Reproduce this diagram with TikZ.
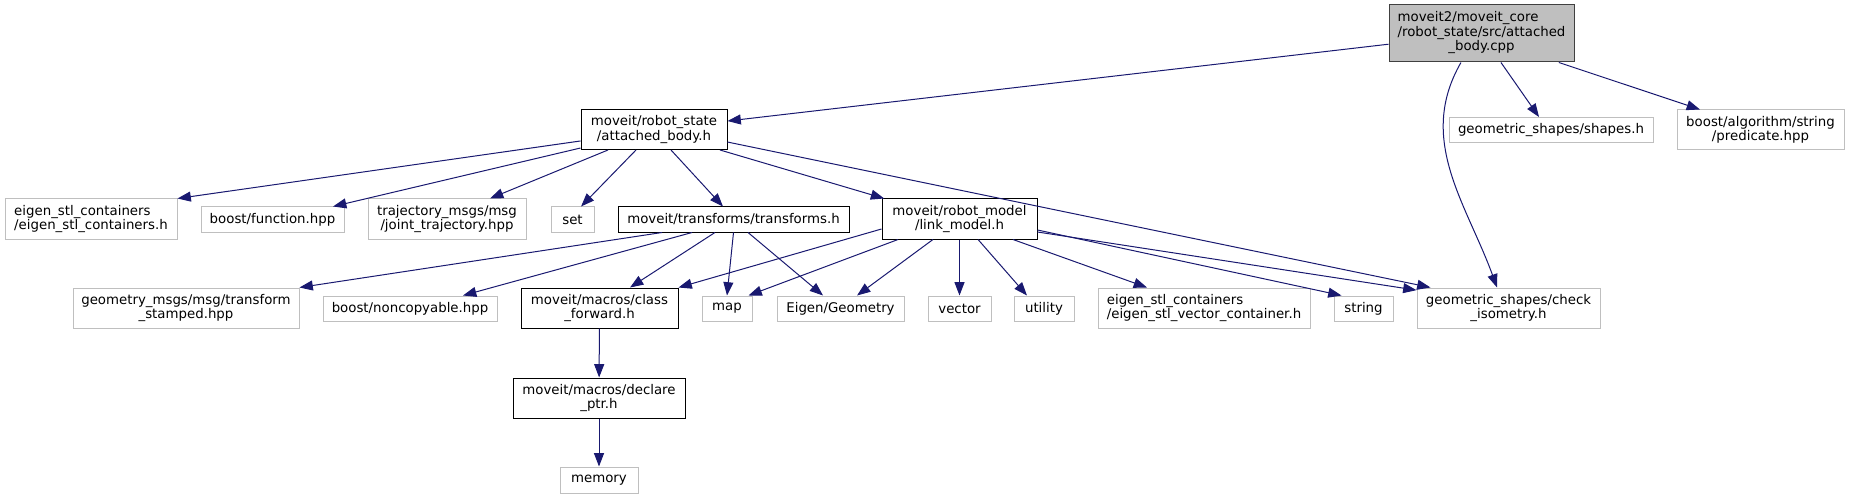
\documentclass[tikz,border=0pt]{standalone}
\usepackage{fontspec}
\setmainfont{DejaVu Sans}
\usepackage{tikz}
\usetikzlibrary{arrows.meta}
\definecolor{edgeblue}{RGB}{25,25,112}
\definecolor{boxgray}{RGB}{191,191,191}
\definecolor{rootgray}{RGB}{64,64,64}

\begin{document}
\begin{tikzpicture}[x=0.75pt, y=-0.75pt,
  every node/.style={font=\fontsize{10}{10.8}\selectfont, inner sep=0pt},
  extbox/.style={draw=boxgray, line width=0.75pt, fill=white, minimum height=18.75pt},
  filebox/.style={draw=black, line width=0.75pt, fill=white, minimum height=18.75pt},
  rootbox/.style={draw=rootgray, line width=0.75pt, fill=boxgray},
  dep/.style={draw=edgeblue, line width=0.75pt, -{Triangle[length=10pt, width=7.5pt]}}]
\useasboundingbox (0,0) rectangle (1849,499);

% Source file
\node[rootbox, minimum width=138.75pt, minimum height=42.75pt] (root) at (1481.5,33.5)
  {\begin{tabular}{@{}l@{}}moveit2/moveit\_core\\/robot\_state/src/attached\\\multicolumn{1}{@{}c@{}}{\_body.cpp}\end{tabular}};

% First level
\node[filebox, minimum width=109.5pt, minimum height=30pt, align=center] (attached) at (654,129.5) {moveit/robot\_state\\/attached\_body.h};
\node[extbox, minimum width=153pt] (shapes) at (1551,130) {geometric\_shapes/shapes.h};
\node[extbox, minimum width=125.25pt, minimum height=30pt, align=center] (predicate) at (1760.5,130) {boost/algorithm/string\\/predicate.hpp};

% Second level
\node[extbox, minimum width=129pt, minimum height=30pt, align=left] (estl) at (91,219) {eigen\_stl\_containers\\/eigen\_stl\_containers.h};
\node[extbox, minimum width=107.25pt] (bfunc) at (272.5,219.5) {boost/function.hpp};
\node[extbox, minimum width=118.5pt, minimum height=30pt, align=center] (traj) at (447,219) {trajectory\_msgs/msg\\/joint\_trajectory.hpp};
\node[extbox, minimum width=32.25pt] (set) at (572.5,219.5) {set};
\node[filebox, minimum width=173.25pt] (transforms) at (733.5,219.5) {moveit/transforms/transforms.h};
\node[filebox, minimum width=116.25pt, minimum height=30pt, align=center] (link) at (959.5,219) {moveit/robot\_model\\/link\_model.h};

% Third level
\node[extbox, minimum width=169.5pt, minimum height=30pt, align=center] (geomsg) at (186,308) {geometry\_msgs/msg/transform\\\_stamped.hpp};
\node[extbox, minimum width=130.5pt] (noncopy) at (410,308.5) {boost/noncopyable.hpp};
\node[filebox, minimum width=117.75pt, minimum height=30pt, align=center] (classfwd) at (599.5,308) {moveit/macros/class\\\_forward.h};
\node[extbox, minimum width=37.5pt] (map) at (727,308.5) {map};
\node[extbox, minimum width=95.25pt] (eigen) at (840.5,308.5) {Eigen/Geometry};
\node[extbox, minimum width=47.25pt] (vector) at (959.5,308.5) {vector};
\node[extbox, minimum width=45pt] (utility) at (1044,308.5) {utility};
\node[extbox, minimum width=159pt, minimum height=30pt, align=left] (estlvec) at (1204,308) {eigen\_stl\_containers\\/eigen\_stl\_vector\_container.h};
\node[extbox, minimum width=44.25pt] (string) at (1363.5,308.5) {string};
\node[extbox, minimum width=137.25pt, minimum height=30pt, align=center] (checkiso) at (1508.5,308) {geometric\_shapes/check\\\_isometry.h};

% Macros chain
\node[filebox, minimum width=129pt, minimum height=30pt, align=center] (declare) at (599,398) {moveit/macros/declare\\\_ptr.h};
\node[extbox, minimum width=58.5pt, minimum height=19.5pt] (memory) at (599,480) {memory};

% Includes of the source file
\draw[dep] (root) -- (attached);
\draw[dep] ([xshift=-15.4pt]root.south) to[out=-120, in=110] ([xshift=-8.6pt]checkiso.north);
\draw[dep] ([xshift=14.6pt]root.south) -- ([xshift=-9pt]shapes.north);
\draw[dep] ([xshift=58pt]root.south) -- ([xshift=-45.4pt]predicate.north);

% Includes of attached_body.h
\draw[dep] ([yshift=-8.6pt]attached.west) -- (estl.north east);
\draw[dep] ([yshift=1.5pt]attached.south west) -- ([xshift=45.4pt]bfunc.north);
\draw[dep] ([xshift=-34.5pt]attached.south) -- ([xshift=32.25pt]traj.north);
\draw[dep] ([xshift=-13.5pt]attached.south) -- ([xshift=6.4pt]set.north);
\draw[dep] ([xshift=12.75pt]attached.south) -- ([xshift=-7.9pt]transforms.north);
\draw[dep] ([xshift=49.5pt]attached.south) -- ([xshift=2pt]link.north west);
\draw[dep] ([yshift=-9.4pt]attached.east) -- ([xshift=10.5pt]checkiso.north west);

% Includes of transforms.h
\draw[dep] ([xshift=-53.6pt]transforms.south) -- (geomsg.north east);
\draw[dep] ([xshift=-31.1pt]transforms.south) -- ([xshift=39.75pt]noncopy.north);
\draw[dep] ([xshift=-13.9pt]transforms.south) -- ([xshift=22.9pt]classfwd.north);
\draw[dep] (transforms.south) -- (map.north);
\draw[dep] ([xshift=10.9pt]transforms.south) -- ([xshift=-13.1pt]eigen.north);

% Includes of link_model.h
\draw[dep] ([yshift=-7.5pt]link.west) -- (classfwd.north east);
\draw[dep] ([xshift=-46.1pt]link.south) -- ([xshift=-3pt]map.north east);
\draw[dep] ([xshift=-19.9pt]link.south) -- ([xshift=12.4pt]eigen.north);
\draw[dep] (link.south) -- (vector.north);
\draw[dep] ([xshift=13.9pt]link.south) -- ([xshift=-12.75pt]utility.north);
\draw[dep] ([xshift=40.1pt]link.south) -- ([xshift=-42.75pt]estlvec.north);
\draw[dep] ([yshift=-8.25pt]link.east) -- ([xshift=6pt]string.north west);
\draw[dep] ([yshift=-9.75pt]link.east) -- ([yshift=-2pt]checkiso.north west);

% Macros chain
\draw[dep] (classfwd) -- (declare);
\draw[dep] (declare) -- (memory);
\end{tikzpicture}
\end{document}
